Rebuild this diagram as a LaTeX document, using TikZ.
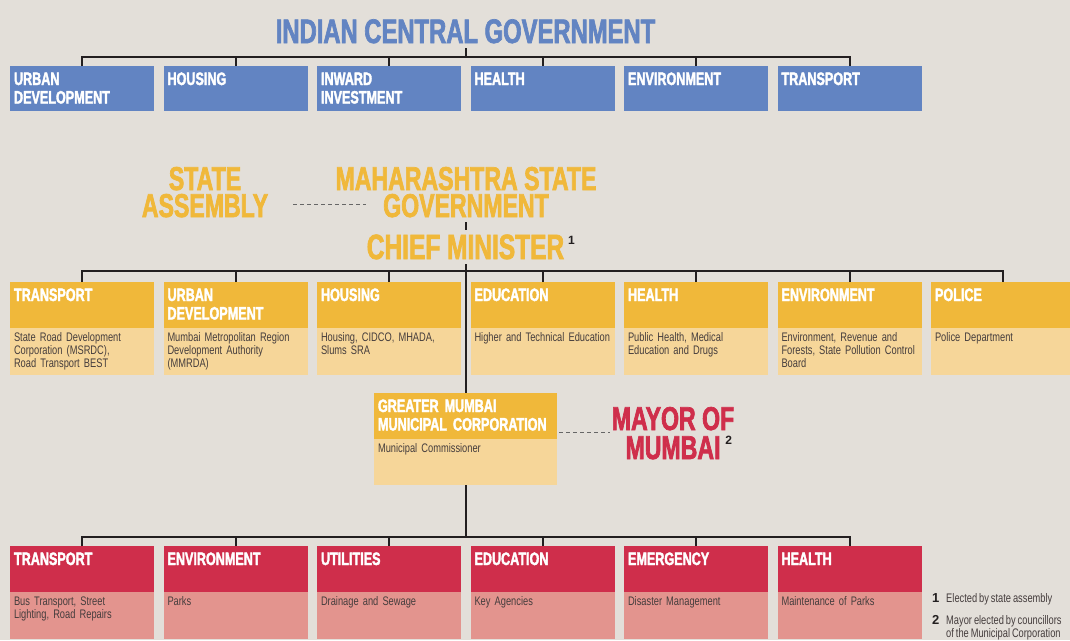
\documentclass[tikz,border=0pt]{standalone}
\usepackage{fontspec}
\usepackage{tikz}
\usetikzlibrary{positioning, calc}
\setmainfont{Liberation Sans}
\newfontfamily\condfont[FakeStretch=0.70, FakeBold=2]{Liberation Sans}
\newfontfamily\narrowfont[FakeStretch=0.75, WordSpace=0.75]{Liberation Sans}
\newcommand{\orgnum}{\normalfont\bfseries\fontsize{12}{12}\selectfont\color{inkline}}

\definecolor{paper}{HTML}{E3DFD9}
\definecolor{cblue}{HTML}{6284C2}
\definecolor{syellow}{HTML}{F0B83A}
\definecolor{slight}{HTML}{F6D699}
\definecolor{mred}{HTML}{CF2E4B}
\definecolor{mpink}{HTML}{E3948E}
\definecolor{inkline}{HTML}{231F20}
\definecolor{inktext}{HTML}{453D3D}

\tikzset{
    bighead/.style={
        inner xsep=4pt, inner ysep=5pt, align=center,
        font=\condfont\bfseries\fontsize{33}{27}\selectfont
    },
    boxhead/.style={
        rectangle, outer sep=0pt,
        minimum width=144pt, text width=136pt,
        inner xsep=4pt, inner ysep=0pt,
        text height=19pt, text depth=27pt,
        align=left, text=white,
        font=\condfont\bfseries\fontsize{18}{18.5}\selectfont
    },
    boxbody/.style={
        rectangle, outer sep=0pt,
        minimum width=144pt, text width=136pt,
        inner xsep=4pt, inner ysep=0pt,
        text height=13pt, text depth=34pt,
        align=left, text=inktext,
        font=\narrowfont\fontsize{12.4}{13.4}\selectfont
    },
    tree/.style={
        draw=inkline, line width=2pt
    },
    dashline/.style={
        draw=black!60, line width=1pt, dash pattern=on 4pt off 3pt
    }
}

\begin{document}
\begin{tikzpicture}[
    x=1pt, y=-1pt,
    node distance=9.5pt,
    every node/.style={outer sep=0pt},
    fnote/.style={inner sep=0pt, text=inktext,
        font=\narrowfont\fontsize{12.4}{13.5}\selectfont}
]

\fill[paper] (0,0) rectangle (1070,640);
\useasboundingbox (0,0) rectangle (1070,640);

% central government
\node[bighead, text=cblue, font=\condfont\bfseries\fontsize{34}{27}\selectfont, anchor=base] (cgov) at (465.5,43) {INDIAN CENTRAL GOVERNMENT};

\node[boxhead, fill=cblue, text depth=26pt, anchor=north west] (cud) at (10,66) {URBAN\\DEVELOPMENT};
\node[boxhead, fill=cblue, text depth=26pt, right=of cud] (chouse) {HOUSING};
\node[boxhead, fill=cblue, text depth=26pt, right=of chouse] (cinvest) {INWARD\\INVESTMENT};
\node[boxhead, fill=cblue, text depth=26pt, right=of cinvest] (chealth) {HEALTH};
\node[boxhead, fill=cblue, text depth=26pt, right=of chealth] (cenv) {ENVIRONMENT};
\node[boxhead, fill=cblue, text depth=26pt, right=of cenv] (ctrans) {TRANSPORT};

\coordinate (cbus) at (465.5,57);
\draw[tree] (cgov.south) -- (cbus);
\draw[tree] (cud.north) -- (cud.north |- cbus) -- (ctrans.north |- cbus) -- (ctrans.north);
\draw[tree] (chouse.north) -- (chouse.north |- cbus);
\draw[tree] (cinvest.north) -- (cinvest.north |- cbus);
\draw[tree] (chealth.north) -- (chealth.north |- cbus);
\draw[tree] (cenv.north) -- (cenv.north |- cbus);

% state government
\node[bighead, text=syellow, anchor=base] (sasm) at (205,217) {STATE\\ASSEMBLY};
\node[bighead, text=syellow, anchor=base] (mgov) at (466,217) {MAHARASHTRA STATE\\GOVERNMENT};
\node[bighead, text=syellow, font=\condfont\bfseries\fontsize{35}{27}\selectfont, anchor=base] (cm) at (465.5,259)
    {CHIEF MINISTER\rlap{\hspace{4pt}\raisebox{15pt}{\orgnum 1}}};

\draw[dashline] ([shift={(21,-13)}]sasm.base east) -- ([shift={(34,-13)}]mgov.base west);
\draw[tree] (cm.north) -- (cm.north |- mgov.south);

\node[boxhead, fill=syellow, anchor=north west] (stransp) at (10,282) {TRANSPORT};
\node[boxbody, fill=slight, below=0pt of stransp] (stranspb) {State Road Development\\Corporation (MSRDC),\\Road Transport BEST};
\node[boxhead, fill=syellow, right=of stransp] (sud) {URBAN\\DEVELOPMENT};
\node[boxbody, fill=slight, below=0pt of sud] (sudb) {Mumbai Metropolitan Region\\Development Authority\\(MMRDA)};
\node[boxhead, fill=syellow, right=of sud] (shouse) {HOUSING};
\node[boxbody, fill=slight, below=0pt of shouse] (shouseb) {Housing, CIDCO, MHADA,\\Slums SRA};
\node[boxhead, fill=syellow, right=of shouse] (sedu) {EDUCATION};
\node[boxbody, fill=slight, below=0pt of sedu] (sedub) {Higher and Technical Education};
\node[boxhead, fill=syellow, right=of sedu] (shealth) {HEALTH};
\node[boxbody, fill=slight, below=0pt of shealth] (shealthb) {Public Health, Medical\\Education and Drugs};
\node[boxhead, fill=syellow, right=of shealth] (senv) {ENVIRONMENT};
\node[boxbody, fill=slight, below=0pt of senv] (senvb) {Environment, Revenue and\\Forests, State Pollution Control\\Board};
\node[boxhead, fill=syellow, right=of senv] (spolice) {POLICE};
\node[boxbody, fill=slight, below=0pt of spolice] (spoliceb) {Police Department};

\coordinate (sbus) at (465.5,271);
\draw[tree] (stransp.north) -- (stransp.north |- sbus) -- (spolice.north |- sbus) -- (spolice.north);
\draw[tree] (sud.north) -- (sud.north |- sbus);
\draw[tree] (shouse.north) -- (shouse.north |- sbus);
\draw[tree] (sedu.north) -- (sedu.north |- sbus);
\draw[tree] (shealth.north) -- (shealth.north |- sbus);
\draw[tree] (senv.north) -- (senv.north |- sbus);

% municipal corporation
\node[boxhead, fill=syellow, minimum width=183pt, text width=175pt, anchor=north west] (gmmc) at (374,393) {GREATER MUMBAI\\MUNICIPAL CORPORATION};
\node[boxbody, fill=slight, minimum width=183pt, text width=175pt, text depth=33pt, below=0pt of gmmc] (gmmcb) {Municipal Commissioner};

\node[bighead, text=mred, font=\condfont\bfseries\fontsize{33}{29}\selectfont, anchor=base] (mayor) at (673,459)
    {MAYOR OF\\MUMBAI\rlap{\hspace{5pt}\raisebox{15pt}{\orgnum 2}}};

\draw[tree] (cm.south) -- (gmmc.north);
\draw[dashline] ([shift={(2,16)}]gmmc.east) -- ([shift={(2,16)}]gmmc.east -| mayor.west);

\node[boxhead, fill=mred, anchor=north west] (mtransp) at (10,546) {TRANSPORT};
\node[boxbody, fill=mpink, below=0pt of mtransp] (mtranspb) {Bus Transport, Street\\Lighting, Road Repairs};
\node[boxhead, fill=mred, right=of mtransp] (menv) {ENVIRONMENT};
\node[boxbody, fill=mpink, below=0pt of menv] (menvb) {Parks};
\node[boxhead, fill=mred, right=of menv] (mutil) {UTILITIES};
\node[boxbody, fill=mpink, below=0pt of mutil] (mutilb) {Drainage and Sewage};
\node[boxhead, fill=mred, right=of mutil] (medu) {EDUCATION};
\node[boxbody, fill=mpink, below=0pt of medu] (medub) {Key Agencies};
\node[boxhead, fill=mred, right=of medu] (memerg) {EMERGENCY};
\node[boxbody, fill=mpink, below=0pt of memerg] (memergb) {Disaster Management};
\node[boxhead, fill=mred, right=of memerg] (mhealth) {HEALTH};
\node[boxbody, fill=mpink, below=0pt of mhealth] (mhealthb) {Maintenance of Parks};

\coordinate (mbus) at (465.5,537);
\draw[tree] (gmmcb.south) -- (gmmcb.south |- mbus);
\draw[tree] (mtransp.north) -- (mtransp.north |- mbus) -- (mhealth.north |- mbus) -- (mhealth.north);
\draw[tree] (menv.north) -- (menv.north |- mbus);
\draw[tree] (mutil.north) -- (mutil.north |- mbus);
\draw[tree] (medu.north) -- (medu.north |- mbus);
\draw[tree] (memerg.north) -- (memerg.north |- mbus);

% footnotes
\node[fnote, anchor=base west] (fnotes) at (932,602) {%
    \begin{tabular}[t]{@{}l@{\hspace{7pt}}l@{}}
    {\orgnum\fontsize{13}{13}\selectfont 1} & Elected by state assembly\\[8.5pt]
    {\orgnum\fontsize{13}{13}\selectfont 2} & Mayor elected by councillors\\
     & of the Municipal Corporation
    \end{tabular}};

\end{tikzpicture}
\end{document}
